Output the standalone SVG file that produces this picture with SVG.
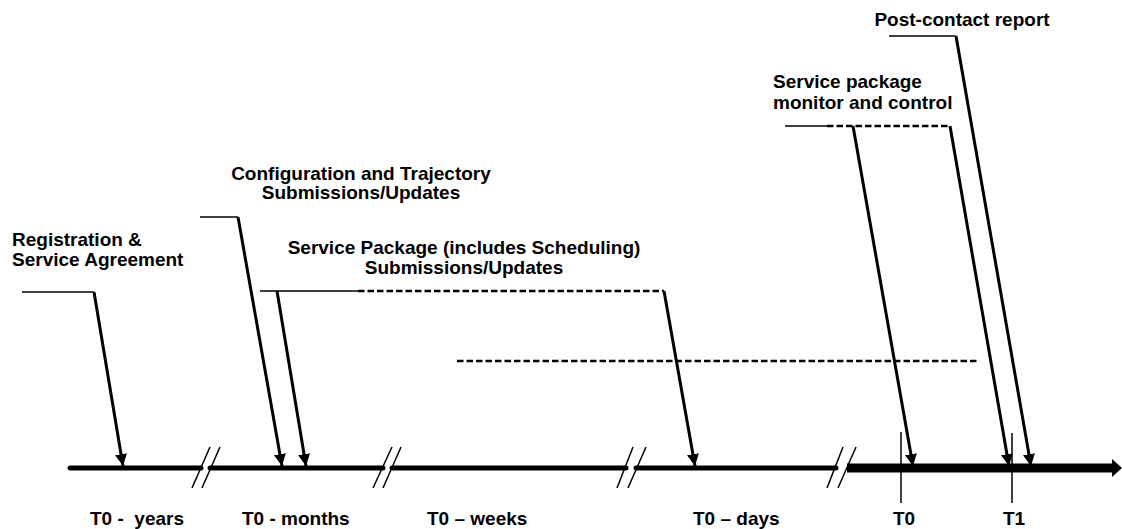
<svg xmlns="http://www.w3.org/2000/svg" width="1122" height="529" viewBox="0 0 1122 529">
<style>
text{font-family:"Liberation Sans",Arial,sans-serif;font-weight:bold;font-size:19px;fill:#000}
.mid{text-anchor:middle}
.leader{stroke:#000;stroke-width:1.5;fill:none}
.dash{stroke:#000;stroke-width:2.5;stroke-dasharray:6.5 3;fill:none}
.arr{stroke:#000;stroke-width:3;fill:none;marker-end:url(#ah)}
.tl{stroke:#000;stroke-width:5;fill:none;stroke-linecap:round}
.brk{stroke:#000;stroke-width:1.5;fill:none}
.tick{stroke:#000;stroke-width:1.5;fill:none}
</style>
<defs>
<marker id="ah" markerUnits="userSpaceOnUse" markerWidth="12" markerHeight="13" viewBox="0 0 12 13" refX="12" refY="6.5" orient="auto">
<path d="M0,0.5 L12,6.5 L0,12.5 Z" fill="#000"/>
</marker>
</defs>
<rect width="1122" height="529" fill="#fff"/>

<g id="timeline">
<line class="tl" x1="70" y1="468" x2="201" y2="468"/>
<line class="tl" x1="210" y1="468" x2="383" y2="468"/>
<line class="tl" x1="392" y1="468" x2="626" y2="468"/>
<line class="tl" x1="636" y1="468" x2="836" y2="468"/>
<line stroke="#000" stroke-width="9" x1="847" y1="468" x2="1114" y2="468"/>
<polygon points="1112,459 1122,468 1112,477" fill="#000"/>
<line class="brk" x1="192" y1="488" x2="210" y2="447"/>
<line class="brk" x1="202" y1="488" x2="220" y2="447"/>
<line class="brk" x1="373" y1="488" x2="392" y2="447"/>
<line class="brk" x1="383" y1="488" x2="401" y2="447"/>
<line class="brk" x1="617" y1="488" x2="633" y2="447"/>
<line class="brk" x1="628" y1="488" x2="646" y2="447"/>
<line class="brk" x1="827" y1="488" x2="843" y2="447"/>
<line class="brk" x1="838" y1="488" x2="856" y2="447"/>
<line class="tick" x1="901" y1="432" x2="901" y2="503"/>
<line class="tick" x1="1012" y1="433" x2="1012" y2="503"/>
</g>

<g id="connectors">
<line class="leader" x1="22" y1="292" x2="94" y2="292"/>
<line class="arr" x1="94" y1="292" x2="123" y2="466"/>
<line class="leader" x1="200" y1="217" x2="238" y2="217"/>
<line class="arr" x1="238" y1="217" x2="282" y2="466"/>
<line class="leader" x1="260" y1="291" x2="358" y2="291"/>
<line class="dash" x1="358" y1="291" x2="664" y2="291"/>
<line class="arr" x1="277" y1="291" x2="306" y2="466"/>
<line class="arr" x1="664" y1="291" x2="695" y2="466"/>
<line class="dash" x1="457" y1="361" x2="977" y2="361"/>
<line class="leader" x1="785" y1="126" x2="827" y2="126"/>
<line class="dash" x1="827" y1="126" x2="950" y2="126"/>
<line class="arr" x1="853" y1="126" x2="913" y2="466"/>
<line class="arr" x1="950" y1="126" x2="1009" y2="466"/>
<line class="leader" x1="889" y1="36" x2="956" y2="36"/>
<line class="arr" x1="956" y1="36" x2="1031" y2="466"/>
</g>

<g id="registration">
<text x="12" y="246">Registration &amp;</text>
<text x="12" y="266">Service Agreement</text>
</g>
<g id="configuration">
<text class="mid" x="361" y="180">Configuration and Trajectory</text>
<text class="mid" x="361" y="199">Submissions/Updates</text>
</g>
<g id="service-package">
<text class="mid" x="464" y="254">Service Package (includes Scheduling)</text>
<text class="mid" x="464" y="274">Submissions/Updates</text>
</g>
<g id="monitor">
<text x="773" y="88">Service package</text>
<text x="773" y="109">monitor and control</text>
</g>
<g id="post-contact">
<text class="mid" x="962" y="26">Post-contact report</text>
</g>

<g id="labels">
<text x="90" y="525" xml:space="preserve">T0 -  years</text>
<text x="242" y="525">T0 - months</text>
<text x="427" y="525">T0 – weeks</text>
<text x="693" y="525">T0 – days</text>
<text x="893" y="525">T0</text>
<text x="1003" y="525">T1</text>
</g>
</svg>
